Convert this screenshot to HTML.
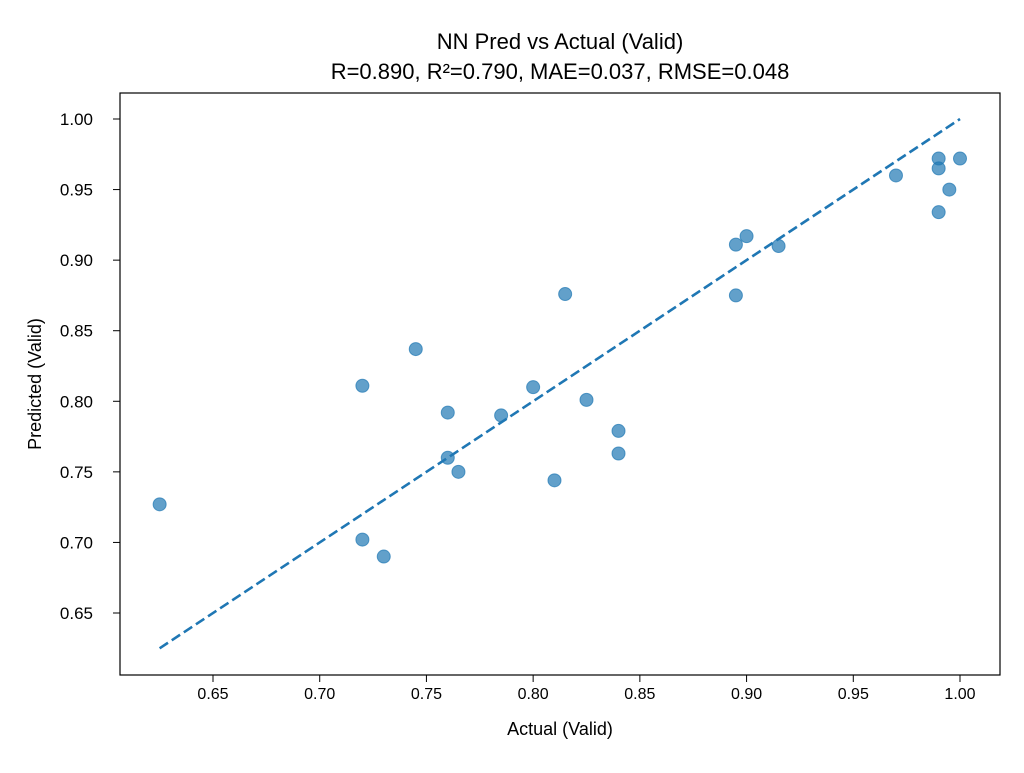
<!DOCTYPE html>
<html><head><meta charset="utf-8"><style>
body{margin:0;background:#fff;font-family:"Liberation Sans","DejaVu Sans",sans-serif}
</style></head><body>
<svg id="chart" width="1024" height="768" xmlns="http://www.w3.org/2000/svg">
<rect width="1024" height="768" fill="#fff"/>
<text x="560" y="49" font-size="22" text-anchor="middle">NN Pred vs Actual (Valid)</text>
<text x="560" y="79" font-size="22" text-anchor="middle">R=0.890, R²=0.790, MAE=0.037, RMSE=0.048</text>
<g id="xt"></g>
<g id="yt"></g>
<g id="marks"></g>
<rect x="120" y="93" width="880" height="582" fill="none" stroke="#000" stroke-width="1.2"/>
<text x="560" y="735" font-size="18" text-anchor="middle">Actual (Valid)</text>
<text transform="translate(41,384) rotate(-90)" font-size="18" text-anchor="middle">Predicted (Valid)</text>
</svg>
<script>
const actual=[0.625,0.72,0.72,0.73,0.745,0.76,0.76,0.765,0.785,0.80,0.81,0.815,0.825,0.84,0.84,0.895,0.895,0.90,0.915,0.97,0.99,0.99,0.99,0.995,1.0];
const predicted=[0.727,0.811,0.702,0.690,0.837,0.792,0.760,0.750,0.790,0.810,0.744,0.876,0.801,0.779,0.763,0.911,0.875,0.917,0.910,0.960,0.972,0.965,0.934,0.950,0.972];
const xTicks=["0.65","0.70","0.75","0.80","0.85","0.90","0.95","1.00"];
const yTicks=["0.65","0.70","0.75","0.80","0.85","0.90","0.95","1.00"];
const idealLine=[0.625,1.0];
const NS="http://www.w3.org/2000/svg";
const X=v=>213+(v-0.65)*(747/0.35);
const Y=v=>613-(v-0.65)*(494/0.35);
function mk(t,a,p){const e=document.createElementNS(NS,t);for(const k in a)e.setAttribute(k,a[k]);p.appendChild(e);return e;}
const xt=document.getElementById('xt'),yt=document.getElementById('yt'),m=document.getElementById('marks');
xTicks.forEach(s=>{const x=X(+s);
const l=mk('line',{x1:x,x2:x,y1:675,y2:682,stroke:'#000'},xt);


const t=mk('text',{x:x,y:699,'font-size':16,'text-anchor':'middle'},xt);t.textContent=s;

});
yTicks.forEach(s=>{const y=Y(+s);
const l=mk('line',{x1:113,x2:120,y1:y,y2:y,stroke:'#000'},yt);


const t=mk('text',{x:93,y:y+6,'font-size':17,'text-anchor':'end'},yt);t.textContent=s;

});
actual.forEach((a,i)=>{const c=mk('circle',{cx:X(a),cy:Y(predicted[i]),r:6.5,fill:'#1f77b4','fill-opacity':0.7,stroke:'#1f77b4','stroke-opacity':0.7},m);

});
const ln=mk('line',{x1:X(idealLine[0]),y1:Y(idealLine[0]),x2:X(idealLine[1]),y2:Y(idealLine[1]),stroke:'#1f77b4','stroke-width':2.6,'stroke-dasharray':'10,4.5'},m);


</script>
</body></html>
